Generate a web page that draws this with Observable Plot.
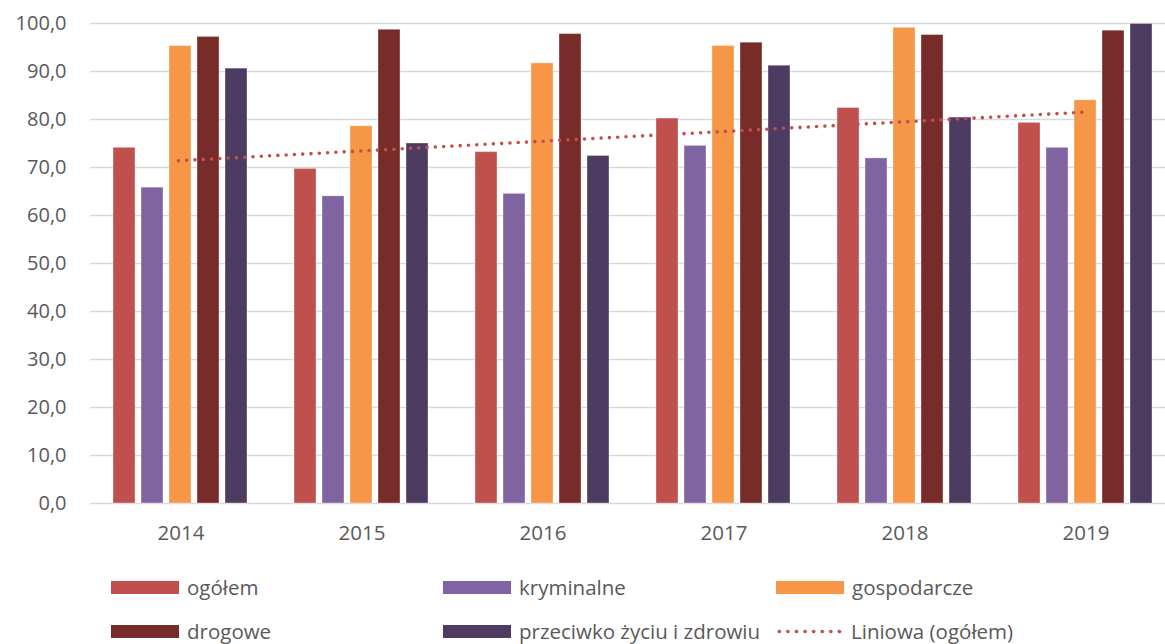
<!DOCTYPE html>
<html><head><meta charset="utf-8">
<script src="https://cdn.jsdelivr.net/npm/d3@7"></script>
<script src="https://cdn.jsdelivr.net/npm/@observablehq/plot@0.6"></script>
<style>
html,body{margin:0;padding:0;background:#fff;overflow:hidden;}
#wrap{position:relative;width:1165px;height:644px;font-family:"Open Sans",sans-serif;}
#wrap svg{position:absolute;left:0;top:0;}
#legend{position:absolute;left:0;top:560px;width:1165px;height:84px;color:#595959;font-size:20.5px;line-height:1;}
.it{position:absolute;display:flex;align-items:center;height:20px;}
.sw{width:68px;height:13px;margin-right:8px;}
.dl{width:69px;height:5px;margin-right:7px;background-image:radial-gradient(circle,#C0504D 1.7px,transparent 2.1px);background-size:8.6px 5px;background-repeat:repeat-x;}
</style></head>
<body><div id="wrap"><div id="legend"></div></div>
<script>
const years = ["2014","2015","2016","2017","2018","2019"];
const seriesNames = ["ogółem","kryminalne","gospodarcze","drogowe","przeciwko życiu i zdrowiu"];
const ogolem      = [74.1, 69.7, 73.2, 80.2, 82.4, 79.3];
const kryminalne  = [65.8, 64.0, 64.5, 74.5, 71.9, 74.1];
const gospodarcze = [95.3, 78.6, 91.7, 95.3, 99.1, 84.0];
const drogowe     = [97.2, 98.7, 97.8, 96.0, 97.6, 98.5];
const przeciwko   = [90.6, 75.0, 72.4, 91.2, 80.4, 99.9];
const yTicks = [0,10,20,30,40,50,60,70,80,90,100];
const trendLabel = "Liniowa (ogółem)";
const colors = ["#C0504D","#8064A2","#F79646","#772C2A","#4D3B62"];

const seriesValues = [ogolem, kryminalne, gospodarcze, drogowe, przeciwko];
const table = [];
years.forEach((y,i)=>seriesNames.forEach((s,j)=>table.push({year:y, series:s, value:seriesValues[j][i]})));
const trendData = years.map((y,i)=>({year:+y, value:ogolem[i]}));

const fmt = d => d.toFixed(1).replace(".", ",");
const W = 1165, H = 560, mL = 87, mR = -13, mT = 23, mB = 57;

const main = Plot.plot({
  width: W, height: H, marginLeft: mL, marginRight: mR, marginTop: mT, marginBottom: mB,
  style: {fontFamily: "Open Sans, sans-serif", background: "transparent", overflow: "visible"},
  fx: {domain: years, padding: 0},
  x: {domain: seriesNames, paddingInner: 0.21, paddingOuter: 0.74, axis: null},
  y: {domain: [0, 100]},
  color: {domain: seriesNames, range: colors},
  marks: [
    Plot.ruleY(yTicks, {stroke: "#D9D9D9", strokeWidth: 1.5}),
    Plot.axisY({ticks: yTicks, tickFormat: fmt, tickSize: 0, tickPadding: 24, fontSize: 20, color: "#595959", label: null}),
    Plot.barY(table, {fx: "year", x: "series", y: "value", fill: "series", stroke: "#ffffff", strokeOpacity: 0.35, strokeWidth: 1}),
    Plot.axisFx({anchor: "bottom", tickSize: 0, tickPadding: 22, fontSize: 20.5, color: "#595959", label: null})
  ]
});
document.getElementById("wrap").appendChild(main);

const overlay = Plot.plot({
  width: W, height: H, marginLeft: mL, marginRight: mR, marginTop: mT, marginBottom: mB,
  style: {background: "transparent", overflow: "visible"},
  x: {domain: [2013.5, 2019.5], axis: null},
  y: {domain: [0, 100], axis: null},
  marks: [
    Plot.linearRegressionY(trendData, {x: "year", y: "value", ci: 0, stroke: "#C0504D", strokeWidth: 3.6, strokeDasharray: "0 8.3", strokeLinecap: "round"})
  ]
});
document.getElementById("wrap").appendChild(overlay);

const legendItems = [
  {label: seriesNames[0], color: colors[0], x: 111, row: 0},
  {label: seriesNames[1], color: colors[1], x: 443, row: 0},
  {label: seriesNames[2], color: colors[2], x: 776, row: 0},
  {label: seriesNames[3], color: colors[3], x: 111, row: 1},
  {label: seriesNames[4], color: colors[4], x: 443, row: 1},
  {label: trendLabel, color: null, x: 775, row: 1}
];
const leg = document.getElementById("legend");
legendItems.forEach(it => {
  const d = document.createElement("div");
  d.className = "it";
  d.style.left = it.x + "px";
  d.style.top = (it.row ? 61 : 17) + "px";
  const s = document.createElement("span");
  if (it.color) { s.className = "sw"; s.style.background = it.color; } else { s.className = "dl"; }
  d.appendChild(s);
  const t = document.createElement("span");
  t.textContent = it.label;
  d.appendChild(t);
  leg.appendChild(d);
});
</script></body></html>
